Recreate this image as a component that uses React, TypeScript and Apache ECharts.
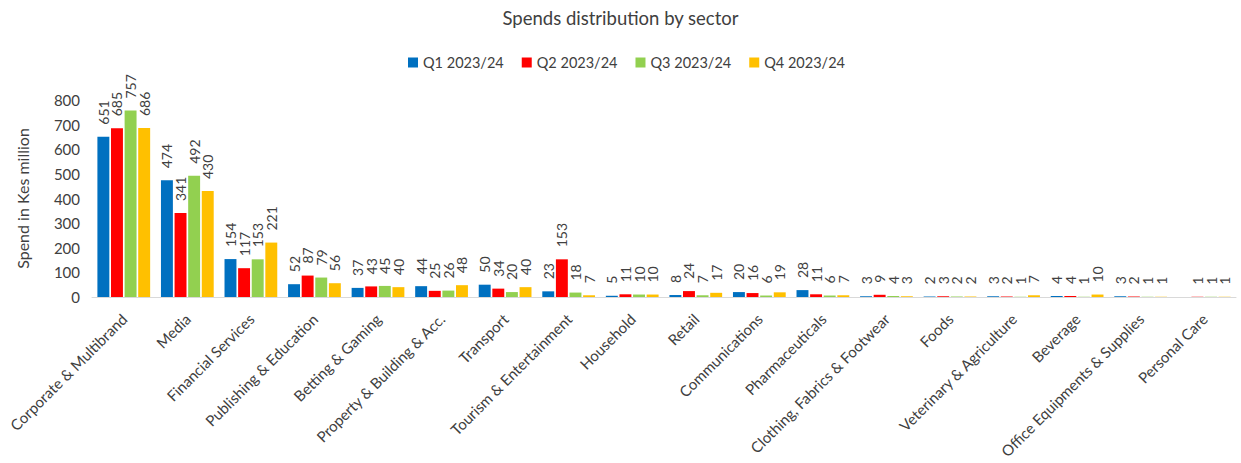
import React, { useEffect, useRef } from "react";
import * as echarts from "echarts";

const categories = [
  "Corporate & Multibrand",
  "Media",
  "Financial Services",
  "Publishing & Education",
  "Betting & Gaming",
  "Property & Building & Acc.",
  "Transport",
  "Tourism & Entertainment",
  "Household",
  "Retail",
  "Communications",
  "Pharmaceuticals",
  "Clothing, Fabrics & Footwear",
  "Foods",
  "Veterinary & Agriculture",
  "Beverage",
  "Office Equipments & Supplies",
  "Personal Care",
];

const seriesNames = ["Q1 2023/24", "Q2 2023/24", "Q3 2023/24", "Q4 2023/24"];
const q1 = [651, 474, 154, 52, 37, 44, 50, 23, 5, 8, 20, 28, 3, 2, 3, 4, 3, null];
const q2 = [685, 341, 117, 87, 43, 25, 34, 153, 11, 24, 16, 11, 9, 3, 2, 4, 2, 1];
const q3 = [757, 492, 153, 79, 45, 26, 20, 18, 10, 7, 6, 6, 4, 2, 1, 1, 1, 1];
const q4 = [686, 430, 221, 56, 40, 48, 40, 7, 10, 17, 19, 7, 3, 2, 7, 10, 1, 1];
const colors = ["#0070C0", "#FF0000", "#92D050", "#FFC000"];

const FONT = "Lato";

export default function App() {
  const ref = useRef<HTMLDivElement>(null);
  useEffect(() => {
    document.body.style.margin = "0";
    const chart = echarts.init(ref.current!, null, { renderer: "svg" });
    const all = [q1, q2, q3, q4];
    chart.setOption({
      animation: false,
      textStyle: { fontFamily: FONT },
      title: {
        text: "Spends distribution by sector",
        left: "center",
        top: 3,
        textStyle: { fontFamily: FONT, fontSize: 18.5, fontWeight: "normal", color: "#404040" },
      },
      legend: {
        top: 50,
        left: 403,
        icon: "rect",
        itemWidth: 10,
        itemHeight: 10,
        itemGap: 18,
        textStyle: { fontFamily: FONT, fontSize: 14.5, color: "#404040" },
        data: seriesNames,
      },
      grid: { left: 92, right: 5, top: 100, bottom: 166, containLabel: false },
      xAxis: {
        type: "category",
        data: categories,
        axisLine: { lineStyle: { color: "#D9D9D9", width: 1 } },
        axisTick: { show: false },
        axisLabel: {
          interval: 0,
          rotate: 45,
          margin: 9,
          align: "right",
          verticalAlign: "top",
          padding: [0, 7, 0, 0],
          fontFamily: FONT,
          fontSize: 15,
          color: "#404040",
        },
      },
      yAxis: {
        type: "value",
        min: 0,
        max: 800,
        interval: 100,
        name: "Spend in Kes million",
        nameLocation: "middle",
        nameGap: 62,
        nameTextStyle: { fontFamily: FONT, fontSize: 16, color: "#404040" },
        axisLine: { show: false },
        axisTick: { show: false },
        splitLine: { show: false },
        axisLabel: { fontFamily: FONT, fontSize: 15, color: "#404040", margin: 12 },
      },
      series: all.map((d, i) => ({
        name: seriesNames[i],
        type: "bar",
        data: d,
        barGap: "14%",
        barCategoryGap: "17%",
        itemStyle: { color: colors[i] },
        label: {
          show: true,
          position: "top",
          rotate: 90,
          align: "left",
          verticalAlign: "middle",
          distance: 12,
          fontFamily: FONT,
          fontSize: 14,
          color: "#404040",
        },
      })),
    });
    return () => chart.dispose();
  }, []);
  return <div ref={ref} style={{ width: 1241, height: 463 }} />;
}
